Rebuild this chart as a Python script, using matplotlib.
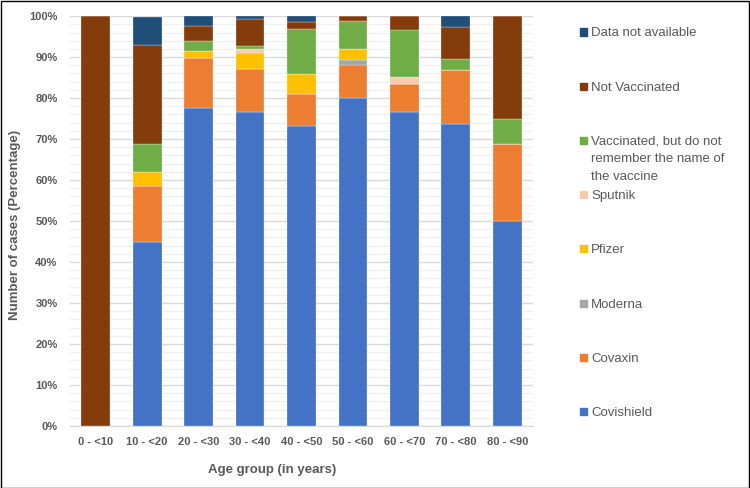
import matplotlib.pyplot as plt
from matplotlib.patches import Rectangle
from matplotlib.ticker import MultipleLocator, PercentFormatter
import numpy as np

age_groups = ['0 - <10', '10 - <20', '20 - <30', '30 - <40', '40 - <50',
              '50 - <60', '60 - <70', '70 - <80', '80 - <90']

# percentages per age group, stacked bottom to top
covishield = [0, 44.8, 77.6, 76.7, 73.1, 80.0, 76.7, 73.7, 50.0]
covaxin = [0, 13.8, 12.1, 10.5, 7.9, 8.0, 6.7, 13.2, 18.75]
moderna = [0, 0, 0, 0, 0, 1.3, 0, 0, 0]
pfizer = [0, 3.4, 1.8, 3.8, 4.8, 2.7, 0, 0, 0]
sputnik = [0, 0, 0, 0.9, 0, 0, 1.7, 0, 0]
vacc_unknown = [0, 6.9, 2.5, 0.7, 11.1, 6.7, 11.6, 2.6, 6.25]
not_vaccinated = [100, 24.1, 3.6, 6.8, 1.6, 1.3, 3.3, 7.9, 25.0]
not_available = [0, 6.9, 2.4, 0.6, 1.5, 0, 0, 2.6, 0]

series = [
    ('Covishield', covishield, '#4472C4'),
    ('Covaxin', covaxin, '#ED7D31'),
    ('Moderna', moderna, '#A5A5A5'),
    ('Pfizer', pfizer, '#FFC000'),
    ('Sputnik', sputnik, '#F8CBAD'),
    ('Vaccinated, but do not\nremember the name of\nthe vaccine', vacc_unknown, '#70AD47'),
    ('Not Vaccinated', not_vaccinated, '#843C0C'),
    ('Data not available', not_available, '#1F4E79'),
]

plt.rcParams['font.family'] = ['Liberation Sans', 'DejaVu Sans']
txt = '#595959'

fig = plt.figure(figsize=(7.5, 4.88), dpi=100)
ax = fig.add_axes([0.0933, 0.127, 0.6174, 0.840])

x = np.arange(len(age_groups))
bottom = np.zeros(len(age_groups))
for name, vals, col in series:
    vals = np.array(vals, dtype=float)
    ax.bar(x, vals, 0.56, bottom=bottom, color=col, edgecolor='white', linewidth=0.2, zorder=3)
    bottom += vals

ax.set_xlim(-0.5, len(age_groups) - 0.5)
ax.set_ylim(0, 100)
ax.yaxis.set_major_locator(MultipleLocator(10))
ax.yaxis.set_minor_locator(MultipleLocator(2))
ax.yaxis.set_major_formatter(PercentFormatter(decimals=0))
ax.grid(axis='y', which='major', color='#D9D9D9', linewidth=1, zorder=0)
ax.grid(axis='y', which='minor', color='#EFEFEF', linewidth=0.8, zorder=0)
ax.set_axisbelow(True)
for s in ['top', 'right', 'left']:
    ax.spines[s].set_visible(False)
ax.spines['bottom'].set_color('#D9D9D9')
ax.tick_params(which='both', length=0)
ax.tick_params(axis='y', pad=9)
ax.tick_params(axis='x', pad=8)
ax.set_xticks(x)
ax.set_xticklabels(age_groups, fontsize=8, fontweight='bold', color=txt)
for lab in ax.get_yticklabels():
    lab.set_fontsize(8)
    lab.set_fontweight('bold')
    lab.set_color(txt)
ax.set_xlabel('Age group (in years)', fontsize=9.5, fontweight='bold', color=txt)
ax.set_ylabel('Number of cases (Percentage)', fontsize=9.5, fontweight='bold', color=txt)
ax.xaxis.set_label_coords(0.436, -0.092)
ax.yaxis.set_label_coords(-0.105, 0.49)

# legend, top to bottom in reverse stacking order
W, H = 750, 488
for i, (name, vals, col) in enumerate(reversed(series)):
    yc = 32 + 54.2 * i
    fig.patches.append(Rectangle((580 / W, 1 - (yc + 3.5) / H), 7 / W, 7 / H,
                                 transform=fig.transFigure, color=col))
    fig.text(591 / W, 1 - (yc - 4.5) / H, name, fontsize=9.5, color=txt,
             va='top', ha='left', linespacing=1.6)

fig.patches.append(Rectangle((0.001, 0.001), 0.997, 0.997, transform=fig.transFigure,
                             fill=False, edgecolor='black', linewidth=1))

fig.savefig('out.png', dpi=100)
